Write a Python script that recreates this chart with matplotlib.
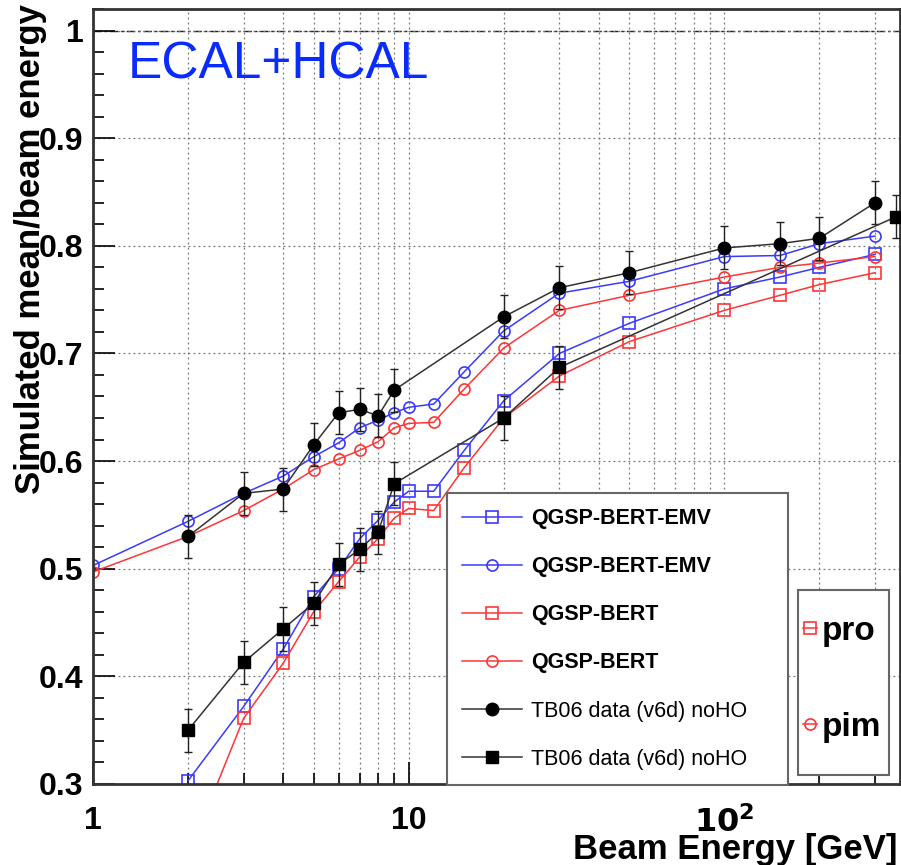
import matplotlib
matplotlib.use("Agg")
import matplotlib.pyplot as plt
from matplotlib.lines import Line2D
from matplotlib.patches import Rectangle
from matplotlib.ticker import FixedLocator, FuncFormatter, MultipleLocator, NullFormatter

plt.rcParams['font.family'] = ['Liberation Sans', 'DejaVu Sans']

# simulation energies (GeV)
e_sim = [1, 2, 3, 4, 5, 6, 7, 8, 9, 10, 12, 15, 20, 30, 50, 100, 150, 200, 300]
e_sim_pro = e_sim[1:]

emv_pim = [0.503, 0.544, 0.570, 0.586, 0.604, 0.617, 0.631, 0.638, 0.645, 0.650,
           0.653, 0.683, 0.721, 0.756, 0.767, 0.790, 0.791, 0.802, 0.809]
bert_pim = [0.497, 0.530, 0.554, 0.574, 0.592, 0.602, 0.610, 0.618, 0.631, 0.635,
            0.636, 0.667, 0.705, 0.740, 0.754, 0.771, 0.780, 0.784, 0.790]
emv_pro = [0.303, 0.372, 0.425, 0.474, 0.500, 0.528, 0.545, 0.562, 0.572,
           0.572, 0.610, 0.656, 0.700, 0.728, 0.760, 0.771, 0.780, 0.792]
bert_pro = [0.233, 0.361, 0.412, 0.460, 0.488, 0.511, 0.528, 0.547, 0.556,
            0.554, 0.594, 0.640, 0.679, 0.711, 0.740, 0.754, 0.764, 0.775]

# TB06 data
e_data_pim = [2, 3, 4, 5, 6, 7, 8, 9, 20, 30, 50, 100, 150, 200, 300]
data_pim = [0.530, 0.570, 0.574, 0.615, 0.645, 0.648, 0.642, 0.666, 0.734,
            0.761, 0.775, 0.798, 0.802, 0.807, 0.840]
err_pim = [0.02] * len(data_pim)
e_data_pro = [2, 3, 4, 5, 6, 7, 8, 9, 20, 30, 350]
data_pro = [0.350, 0.413, 0.444, 0.468, 0.504, 0.518, 0.534, 0.579, 0.640, 0.687, 0.827]
err_pro = [0.02] * len(data_pro)

labels = ['QGSP-BERT-EMV', 'QGSP-BERT-EMV', 'QGSP-BERT', 'QGSP-BERT',
          'TB06 data (v6d) noHO', 'TB06 data (v6d) noHO']

blue = '#3a3aff'
red = '#ff3535'

fig = plt.figure(figsize=(9.01, 8.65), dpi=100)
ax = fig.add_axes([93 / 901, 1 - 784 / 865, 807 / 901, 775 / 865])

ax.set_xscale('log')
ax.set_xlim(1, 360)
ax.set_ylim(0.3, 1.02)

# grid
ax.grid(True, which='both', axis='x', ls=(0, (1.5, 2.5)), color='#777777', lw=0.9)
ax.grid(True, which='major', axis='y', ls=(0, (1.5, 2.5)), color='#777777', lw=0.9)
ax.axhline(1.0, color='#222222', lw=1.0, ls=(0, (6, 2, 2, 2)), zorder=1)

open_kw = dict(mfc='none', ms=8, mew=1.2, lw=1.1)
h1, = ax.plot(e_sim_pro, emv_pro, color=blue, marker='s', **open_kw)
h2, = ax.plot(e_sim, emv_pim, color=blue, marker='o', **open_kw)
h3, = ax.plot(e_sim_pro, bert_pro, color=red, marker='s', **open_kw)
h4, = ax.plot(e_sim, bert_pim, color=red, marker='o', **open_kw)

ax.errorbar(e_data_pim, data_pim, yerr=err_pim, fmt='none', ecolor='#222222',
            elinewidth=1.0, capsize=3, zorder=4)
ax.errorbar(e_data_pro, data_pro, yerr=err_pro, fmt='none', ecolor='#222222',
            elinewidth=1.0, capsize=3, zorder=4)
h5, = ax.plot(e_data_pim, data_pim, color='#333333', marker='o', mfc='k', mec='k',
              ms=9, lw=1.1, zorder=5)
h6, = ax.plot(e_data_pro, data_pro, color='#333333', marker='s', mfc='k', mec='k',
              ms=8.5, lw=1.1, zorder=5)

# axes / ticks
ax.xaxis.set_major_locator(FixedLocator([1, 10, 100]))
ax.xaxis.set_major_formatter(FuncFormatter(
    lambda v, p: {1: '1', 10: '10', 100: r'$\mathbf{10^2}$'}.get(int(round(v)), '')))
ax.xaxis.set_minor_locator(FixedLocator([2, 3, 4, 5, 6, 7, 8, 9, 20, 30, 40, 50,
                                         60, 70, 80, 90, 200, 300]))
ax.xaxis.set_minor_formatter(NullFormatter())
ax.yaxis.set_major_locator(MultipleLocator(0.1))
ax.yaxis.set_minor_locator(MultipleLocator(0.02))
ax.yaxis.set_major_formatter(FuncFormatter(lambda v, p: '%g' % round(v, 2)))

ax.tick_params(which='both', direction='in', top=False, right=False, width=1.2)
ax.tick_params(which='major', length=16)
ax.tick_params(which='minor', length=8)
ax.tick_params(axis='x', which='major', pad=16, labelsize=23)
ax.tick_params(axis='y', which='major', pad=7, labelsize=23)
for lab in ax.get_xticklabels() + ax.get_yticklabels():
    lab.set_fontweight('bold')

for sp in ax.spines.values():
    sp.set_linewidth(2)
    sp.set_color('#333333')

fig.text(0.996, 1 - 849 / 865, 'Beam Energy [GeV]', ha='right', va='center',
         fontsize=25, fontweight='bold')
fig.text(31 / 901, 1 - 4 / 865, 'Simulated mean/beam energy', rotation=90,
         ha='center', va='top', fontsize=25, fontweight='bold')

ax.text(128 / 901, 1 - 65 / 865, 'ECAL+HCAL', transform=fig.transFigure,
        ha='left', va='center', fontsize=37, color='#0a2bff')

# legends
leg1 = ax.legend([h1, h2, h3, h4, h5, h6], labels, loc='upper left',
                 bbox_to_anchor=(447 / 901, 0, 341 / 901, 1 - 493 / 865),
                 bbox_transform=fig.transFigure, mode='expand', borderaxespad=0,
                 handlelength=2.8, handletextpad=0.4, borderpad=0.7,
                 labelspacing=1.26, fancybox=False, framealpha=1,
                 edgecolor='#666666', prop={'size': 15.5})
leg1.get_frame().set_linewidth(1.5)
for i, t in enumerate(leg1.get_texts()):
    t.set_fontweight('bold' if i < 4 else 'normal')
ax.add_artist(leg1)

# particle legend box
ax.add_patch(Rectangle((798 / 901, 1 - 775 / 865), 91 / 901, 185 / 865,
                       transform=fig.transFigure, clip_on=False, fc='white',
                       ec='#666666', lw=1.5, zorder=6))
p1 = Line2D([], [], color=red, marker='s', mfc='none', ms=8, mew=1.2, lw=1.1)
p2 = Line2D([], [], color=red, marker='o', mfc='none', ms=8, mew=1.2, lw=1.1)
leg2 = ax.legend([p1, p2], ['pro', 'pim'], loc='upper left',
                 bbox_to_anchor=(803 / 901, 1 - 616 / 865),
                 bbox_transform=fig.transFigure, borderaxespad=0,
                 handlelength=0.42, handletextpad=0.15, borderpad=0,
                 labelspacing=1.95, frameon=False,
                 prop={'weight': 'bold', 'size': 24})
leg2.set_zorder(7)

fig.savefig('out.png', dpi=100)
